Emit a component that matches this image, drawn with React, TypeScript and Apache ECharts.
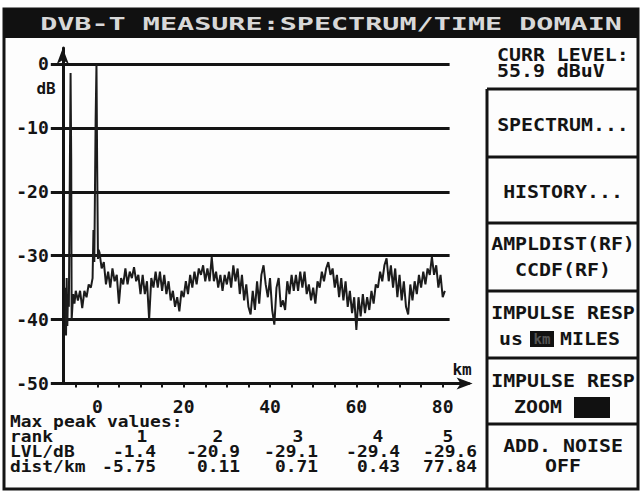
import React, { useEffect, useRef } from "react";
import * as echarts from "echarts";

const titleText = "DVB-T MEASURE:SPECTRUM/TIME DOMAIN";
const yTickValues = [0, -10, -20, -30, -40, -50];
const xLabelValues = [0, 20, 40, 60, 80];
const xTickValues = [-5, 0, 5, 10, 15, 20, 25, 30, 35, 40, 45, 50, 55, 60, 65, 70, 75, 80];
const gridLevels = [0, -10, -20, -30, -40];

// echo region before the main path (km, dB)
const echoDist = [-7.4, -7.25, -7.1, -6.95, -6.8, -6.6, -6.35, -6.2, -6.05, -5.95, -5.6, -5.3, -5.0, -4.5, -4.0, -3.5, -3.0, -2.5, -2.0, -1.5, -1.1, -0.9, -0.7, -0.4, -0.2, -0.05, 0.15, 0.3];
const echoLevel = [-35, -42.5, -33.5, -41, -36, -38, -15, -1.4, -15, -40, -36, -37.5, -35.5, -37, -35.5, -38.2, -35.5, -36.5, -34.5, -35, -33.5, -26, -31, -9, 0, -15, -30.5, -29.1];

// noise floor after the main path, every 0.5 km from 0.5 km (one row = 5 km)
const noiseStartKm = 0.5;
const noiseStepKm = 0.5;
const noiseLevel = [
  -29.5, -32, -31, -34.5, -32.5, -35, -32, -34, -33, -37.5,
  -33.5, -34.5, -32, -34.5, -32.5, -33.5, -31.8, -34, -33, -36,
  -33, -36, -34, -40, -33.5, -35, -32.5, -35, -32.5, -35.5,
  -33, -36, -34, -37, -35.5, -38, -36.5, -38.7, -35.5, -36.5,
  -34, -36, -33, -35, -32.5, -34.5, -32, -33, -31.5, -34,
  -32, -34, -30.2, -34, -32.5, -35, -33, -35.5, -33, -34.5,
  -32.5, -35, -31.5, -34, -32, -36, -33, -37, -34.5, -38,
  -39.2, -35.5, -38.5, -34, -37.5, -33, -31.5, -34.5, -36.5, -33.5,
  -38.5, -40.8, -35, -33.5, -38, -37, -38.5, -34, -36, -33,
  -35.5, -33, -35.5, -32.5, -35, -32.5, -36, -34.5, -37, -35,
  -37.5, -34, -35, -32.5, -34, -32, -31, -33, -32, -35,
  -33, -36.5, -33.5, -37, -34, -38, -35.5, -39, -36.5, -41.6,
  -36.5, -39.5, -36, -39, -36.5, -38.5, -35.5, -37.5, -34.5, -35,
  -32.5, -34, -31.5, -30.4, -34, -31.5, -35, -32, -36.5, -33,
  -37, -34, -38, -39.2, -34.5, -37, -34, -36, -33, -35,
  -32.5, -34.5, -32, -33, -30.2, -33, -31.5, -35, -33, -36.5,
  -35.5,
];

const peakRanks = ["1", "2", "3", "4", "5"];
const peakLevels = ["-1.4", "-20.9", "-29.1", "-29.4", "-29.6"];
const peakDists = ["-5.75", "0.11", "0.71", "0.43", "77.84"];

const menuLines = [
  ["SPECTRUM..."],
  ["HISTORY..."],
  ["AMPLDIST(RF)", "CCDF(RF)"],
  ["IMPULSE RESP"],
  ["IMPULSE RESP"],
  ["ADD. NOISE", "OFF"],
];

const MONO = '"DejaVu Sans Mono", "Liberation Mono", monospace';
const INK = "#141414";

function txt(text: string, x: number, y: number, o: any = {}) {
  return {
    type: "text",
    x,
    y,
    scaleX: o.scaleX ?? 1,
    z: 20,
    style: {
      text,
      fill: o.fill ?? INK,
      font: `${o.weight ?? "bold"} ${o.size ?? 17}px ${MONO}`,
      textAlign: o.align ?? "left",
      textVerticalAlign: "middle",
      verticalAlign: "middle",
    },
  };
}

export default function App() {
  const ref = useRef<HTMLDivElement>(null);
  useEffect(() => {
    if (!ref.current) return;
    const chart = echarts.init(ref.current, undefined, { renderer: "svg" });

    const trace: number[][] = echoDist.map((d, i) => [d, echoLevel[i]]);
    noiseLevel.forEach((v, i) => trace.push([noiseStartKm + i * noiseStepKm, v]));

    const labelFont = { fontFamily: MONO, fontWeight: "bold" as const, fontSize: 18, color: INK };

    const g: any[] = [];
    g.push({ type: "rect", z: -5, shape: { x: 4, y: 9, width: 634, height: 480 }, style: { fill: "#fdfdfd", stroke: INK, lineWidth: 3 } });
    g.push({ type: "rect", z: -4, shape: { x: 4, y: 9, width: 634, height: 29 }, style: { fill: "#111" } });
    g.push(txt(titleText, 331, 24, { fill: "#d8d8d8", size: 18, scaleX: 1.58, align: "center" }));
    const panelX = 487;
    const dividers = [89, 157, 223, 291, 358, 424];
    g.push({ type: "line", z: 10, shape: { x1: panelX, y1: 89, x2: panelX, y2: 489 }, style: { stroke: INK, lineWidth: 3 } });
    dividers.forEach((y) => g.push({ type: "line", z: 10, shape: { x1: panelX, y1: y, x2: 638, y2: y }, style: { stroke: INK, lineWidth: 3 } }));
    g.push(txt("CURR LEVEL:", 497, 55, { scaleX: 1.17 }));
    g.push(txt("55.9 dBuV", 497, 71, { scaleX: 1.17 }));
    const cx = 563;
    g.push(txt(menuLines[0][0], cx, 125, { align: "center", scaleX: 1.17 }));
    g.push(txt(menuLines[1][0], cx, 192, { align: "center", scaleX: 1.17 }));
    g.push(txt(menuLines[2][0], cx, 244, { align: "center", scaleX: 1.17 }));
    g.push(txt(menuLines[2][1], cx, 270, { align: "center", scaleX: 1.17 }));
    g.push(txt(menuLines[3][0], cx, 313, { align: "center", scaleX: 1.17 }));
    g.push(txt("us", 499, 339, { scaleX: 1.17 }));
    g.push({ type: "rect", z: 15, shape: { x: 530, y: 331, width: 24, height: 16 }, style: { fill: "#111" } });
    g.push(txt("km", 542, 339, { align: "center", fill: "#555", size: 14 }));
    g.push(txt("MILES", 560, 339, { scaleX: 1.17 }));
    g.push(txt(menuLines[4][0], cx, 381, { align: "center", scaleX: 1.17 }));
    g.push(txt("ZOOM", 514, 407, { scaleX: 1.17 }));
    g.push({ type: "rect", z: 15, shape: { x: 574, y: 397, width: 36, height: 21 }, style: { fill: "#111" } });
    g.push(txt(menuLines[5][0], cx, 446, { align: "center", scaleX: 1.17 }));
    g.push(txt(menuLines[5][1], cx, 466, { align: "center", scaleX: 1.17 }));
    g.push(txt("dB", 46, 88, { align: "center", size: 16 }));
    g.push(txt("km", 462, 369, { align: "center", size: 16 }));
    g.push(txt("Max peak values:", 10, 421, { size: 16, scaleX: 1.12 }));
    g.push(txt("rank", 10, 436, { size: 16, scaleX: 1.12 }));
    g.push(txt("LVL/dB", 10, 451, { size: 16, scaleX: 1.12 }));
    g.push(txt("dist/km", 10, 466, { size: 16, scaleX: 1.12 }));
    const rankX = [142, 218, 298, 378, 448];
    const colRight = [156, 240, 318, 400, 477];
    peakRanks.forEach((r, i) => g.push(txt(r, rankX[i], 436, { size: 16, scaleX: 1.12, align: "center" })));
    peakLevels.forEach((r, i) => g.push(txt(r, colRight[i], 451, { size: 16, scaleX: 1.12, align: "right" })));
    peakDists.forEach((r, i) => g.push(txt(r, colRight[i], 466, { size: 16, scaleX: 1.12, align: "right" })));

    chart.setOption({
      animation: false,
      backgroundColor: "#ffffff",
      grid: { left: 62.8, top: 48, width: 405.8, height: 335.5, containLabel: false, outerBoundsMode: "none" },
      xAxis: {
        type: "value",
        min: -8,
        max: 86,
        splitLine: { show: false },
        axisLine: { onZero: false, symbol: ["none", "arrow"], symbolSize: [9, 16], symbolOffset: [0, 4], lineStyle: { color: INK, width: 3 } },
        axisTick: { customValues: xTickValues, length: 4, lineStyle: { color: INK, width: 2 } },
        axisLabel: { customValues: xLabelValues, margin: 14, ...labelFont },
      },
      yAxis: {
        type: "value",
        min: -50,
        max: 2.5,
        splitLine: { show: false },
        axisLine: { onZero: false, symbol: ["none", "arrow"], symbolSize: [9, 16], lineStyle: { color: INK, width: 3 } },
        axisTick: { customValues: yTickValues, length: 12, lineStyle: { color: INK, width: 3 } },
        axisLabel: { customValues: yTickValues, margin: 14, ...labelFont },
      },
      graphic: { elements: g },
      series: [
        {
          type: "line",
          data: trace,
          symbol: "none",
          z: 5,
          lineStyle: { color: "#1c1c1c", width: 2 },
          markLine: {
            silent: true,
            symbol: ["none", "none"],
            label: { show: false },
            lineStyle: { color: INK, width: 3, type: "solid" },
            data: gridLevels.map((v) => [{ coord: [-8, v] }, { coord: [81.6, v] }]),
          },
        },
      ],
    });
    return () => chart.dispose();
  }, []);
  return <div ref={ref} style={{ position: "fixed", left: 0, top: 0, width: 641, height: 492 }} />;
}
